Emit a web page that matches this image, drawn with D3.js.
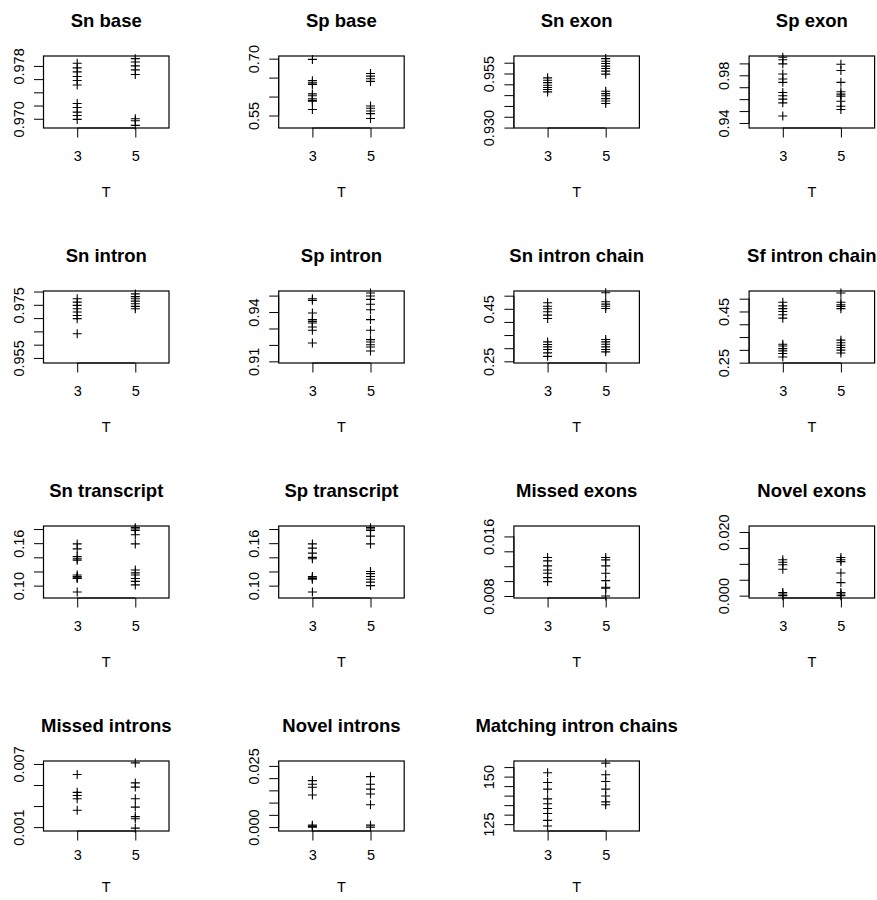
<!DOCTYPE html>
<meta charset="utf-8">
<script src="https://d3js.org/d3.v7.min.js"></script>
<style>
  body { margin: 0; background: #fff; }
  text { font-family: "Liberation Sans", Arial, Helvetica, sans-serif; fill: #000; }
</style>
<body>
<div id="my_dataviz"></div>
<script>
// panel titles, in the order they are drawn (4 per row)
var titles = ["Sn base", "Sp base", "Sn exon", "Sp exon",
              "Sn intron", "Sp intron", "Sn intron chain", "Sf intron chain",
              "Sn transcript", "Sp transcript", "Missed exons", "Novel exons",
              "Missed introns", "Novel introns", "Matching intron chains"];

// x categories
var tValues = [3, 5];
var xLimits = [1.84, 6.16];

// values at T = 3
var valuesT3 = [
  [0.9784, 0.9777, 0.9771, 0.9764, 0.9758, 0.9751, 0.9723, 0.9717, 0.9710, 0.9705, 0.9699],
  [0.698, 0.642, 0.636, 0.632, 0.607, 0.602, 0.594, 0.590, 0.588, 0.566],
  [0.9530, 0.9519, 0.9508, 0.9496, 0.9485, 0.9476, 0.9465],
  [0.9952, 0.9930, 0.9896, 0.9811, 0.9769, 0.9741, 0.9656, 0.9628, 0.9600, 0.9569, 0.9459],
  [0.9773, 0.9760, 0.9748, 0.9735, 0.9723, 0.9710, 0.9698, 0.9641],
  [0.9481, 0.9471, 0.9394, 0.9354, 0.9343, 0.9333, 0.9309, 0.9289, 0.9212],
  [0.473, 0.460, 0.450, 0.439, 0.426, 0.413, 0.324, 0.314, 0.305, 0.295, 0.282, 0.269],
  [0.486, 0.472, 0.461, 0.450, 0.437, 0.424, 0.322, 0.315, 0.305, 0.296, 0.286, 0.272],
  [0.159, 0.152, 0.141, 0.138, 0.136, 0.115, 0.113, 0.111, 0.110, 0.091],
  [0.159, 0.153, 0.146, 0.140, 0.138, 0.113, 0.111, 0.110, 0.109, 0.091],
  [0.01317, 0.01272, 0.01204, 0.01150, 0.01106, 0.01047, 0.00993],
  [0.0113, 0.0105, 0.0097, 0.0083, 0.0010, 0.0005, 0.0000],
  [0.0060, 0.0043, 0.0040, 0.0037, 0.0026],
  [0.0190, 0.0175, 0.0163, 0.0131, 0.0008, 0.0003, 0.0000],
  [152, 146.9, 143.4, 138.3, 135.7, 133.2, 130.6, 127, 124]
];

// values at T = 5
var valuesT5 = [
  [0.9791, 0.9786, 0.9780, 0.9774, 0.9767, 0.9700, 0.9697, 0.9690],
  [0.661, 0.654, 0.647, 0.640, 0.575, 0.569, 0.562, 0.555, 0.542],
  [0.9619, 0.9607, 0.9596, 0.9584, 0.9573, 0.9561, 0.9547, 0.9468, 0.9457, 0.9447, 0.9434, 0.9423, 0.9411],
  [0.9893, 0.9840, 0.9741, 0.9662, 0.9642, 0.9625, 0.9583, 0.9541, 0.9513],
  [0.9791, 0.9781, 0.9773, 0.9764, 0.9754, 0.9744, 0.9735],
  [0.9516, 0.9498, 0.9477, 0.9447, 0.9414, 0.9354, 0.9289, 0.9232, 0.9218, 0.9201, 0.9187, 0.9163],
  [0.511, 0.477, 0.468, 0.460, 0.451, 0.333, 0.324, 0.315, 0.305, 0.295, 0.286],
  [0.522, 0.486, 0.476, 0.470, 0.461, 0.338, 0.328, 0.318, 0.309, 0.299, 0.288],
  [0.182, 0.180, 0.178, 0.172, 0.159, 0.122, 0.118, 0.115, 0.110, 0.106, 0.101],
  [0.182, 0.180, 0.178, 0.170, 0.159, 0.120, 0.117, 0.113, 0.109, 0.105, 0.100],
  [0.01317, 0.01285, 0.01204, 0.01106, 0.01007, 0.00917, 0.00903, 0.00800],
  [0.0120, 0.0113, 0.0107, 0.0071, 0.0041, 0.0010, 0.0005, 0.0000],
  [0.0071, 0.0052, 0.0048, 0.0037, 0.0029, 0.0020, 0.0018, 0.0009],
  [0.0206, 0.0175, 0.0155, 0.0135, 0.0091, 0.0008, 0.0000],
  [157.1, 151, 147.4, 143.4, 139.8, 136.7, 135.2]
];

// y axis range of each panel
var yLimits = [
  [0.9686, 0.9795], [0.517, 0.707], [0.9298, 0.9631], [0.9358, 0.9962],
  [0.9531, 0.9802], [0.909, 0.9528], [0.2436, 0.5178], [0.2487, 0.530],
  [0.0825, 0.1843], [0.0825, 0.1843], [0.00773, 0.0174], [-0.00074, 0.0219],
  [0.00063, 0.00728], [-0.0016, 0.027], [121.4, 158.2]
];

// y tick values and the labels R kept (others dropped for overlap)
var yTicks = [
  [0.970, 0.972, 0.974, 0.976, 0.978],
  [0.55, 0.60, 0.65, 0.70],
  [0.930, 0.935, 0.940, 0.945, 0.950, 0.955, 0.960],
  [0.94, 0.95, 0.96, 0.97, 0.98, 0.99],
  [0.955, 0.960, 0.965, 0.970, 0.975, 0.980],
  [0.91, 0.92, 0.93, 0.94, 0.95],
  [0.25, 0.30, 0.35, 0.40, 0.45, 0.50],
  [0.25, 0.30, 0.35, 0.40, 0.45, 0.50],
  [0.10, 0.12, 0.14, 0.16, 0.18],
  [0.10, 0.12, 0.14, 0.16, 0.18],
  [0.008, 0.010, 0.012, 0.014, 0.016],
  [0.000, 0.005, 0.010, 0.015, 0.020],
  [0.001, 0.003, 0.005, 0.007],
  [0.000, 0.005, 0.010, 0.015, 0.020, 0.025],
  [125, 130, 135, 140, 145, 150, 155]
];
var yTickLabels = [
  ["0.970", "", "", "", "0.978"],
  ["0.55", "", "", "0.70"],
  ["0.930", "", "", "", "", "0.955", ""],
  ["0.94", "", "", "", "0.98", ""],
  ["0.955", "", "", "", "0.975", ""],
  ["0.91", "", "", "0.94", ""],
  ["0.25", "", "", "", "0.45", ""],
  ["0.25", "", "", "", "0.45", ""],
  ["0.10", "", "", "0.16", ""],
  ["0.10", "", "", "0.16", ""],
  ["0.008", "", "", "", "0.016"],
  ["0.000", "", "", "", "0.020"],
  ["0.001", "", "", "0.007"],
  ["0.000", "", "", "", "", "0.025"],
  ["125", "", "", "", "", "150", ""]
];

// layout of the 4x4 grid
var W = 877, H = 900;
var left0 = 43.5, top0 = 56, pitchX = 235.2, pitchY = 235;
var boxW = 125.5;
var tick = 9.5, plus = 4.5;

var svg = d3.select("#my_dataviz")
  .append("svg")
    .attr("width", W)
    .attr("height", H);

titles.forEach(function(title, i) {
  var col = i % 4, row = Math.floor(i / 4);
  // the bottom row is a little tighter so its labels stay in the picture
  var last = row === 3;
  var boxH = last ? 70 : 72;
  var tickLabY = last ? 29 : 33;
  var xLabY = last ? 61 : 69;

  var g = svg.append("g")
    .attr("transform", "translate(" + (left0 + col * pitchX) + "," + (top0 + row * pitchY) + ")");

  var x = d3.scaleLinear().domain(xLimits).range([0, boxW]);
  var y = d3.scaleLinear().domain(yLimits[i]).range([boxH, 0]);

  // x axis: ticks at 3 and 5 only
  var xa = g.append("g")
    .attr("transform", "translate(0," + boxH + ")")
    .call(d3.axisBottom(x).tickValues(tValues).tickSize(tick).tickSizeOuter(0)
      .tickFormat(d3.format("d")));
  xa.select(".domain").remove();
  xa.append("line")
    .attr("x1", x(tValues[0])).attr("x2", x(tValues[1]))
    .attr("stroke", "#000");
  xa.selectAll(".tick text")
    .attr("y", tickLabY).attr("dy", 0)
    .style("font-size", "14.5px");

  // y axis with rotated labels
  var ticks = yTicks[i], labs = yTickLabels[i];
  var ya = g.append("g")
    .call(d3.axisLeft(y).tickValues(ticks).tickSize(tick).tickSizeOuter(0)
      .tickFormat(function(d, k) { return labs[k]; }));
  ya.select(".domain").remove();
  ya.append("line")
    .attr("y1", y(ticks[0])).attr("y2", y(ticks[ticks.length - 1]))
    .attr("stroke", "#000");
  ya.selectAll(".tick text")
    .attr("transform", "rotate(-90)")
    .attr("x", 0).attr("y", -20).attr("dy", 0)
    .style("text-anchor", "middle")
    .style("font-size", "14.5px");

  svg.selectAll(".tick line").attr("stroke", "#000");
  svg.selectAll(".tick text").attr("fill", "#000").attr("font-family", null);

  // plot box
  g.append("rect")
    .attr("x", 0).attr("y", 0)
    .attr("width", boxW).attr("height", boxH)
    .attr("fill", "none")
    .attr("stroke", "#000")
    .attr("stroke-width", 1.2);

  // points, drawn as "+"
  var pts = [];
  valuesT3[i].forEach(function(v) { pts.push({t: 3, v: v}); });
  valuesT5[i].forEach(function(v) { pts.push({t: 5, v: v}); });
  g.append("g")
    .selectAll("path")
    .data(pts)
    .enter()
    .append("path")
      .attr("d", function(d) {
        var cx = x(d.t), cy = y(d.v);
        return "M" + (cx - plus) + "," + cy + "H" + (cx + plus) +
               "M" + cx + "," + (cy - plus) + "V" + (cy + plus);
      })
      .attr("stroke", "#000")
      .attr("stroke-width", 1.1)
      .attr("fill", "none");

  // title and x label
  g.append("text")
    .attr("x", boxW / 2).attr("y", -29)
    .attr("text-anchor", "middle")
    .style("font-size", "18.5px")
    .style("font-weight", "bold")
    .text(title);
  g.append("text")
    .attr("x", boxW / 2).attr("y", boxH + xLabY)
    .attr("text-anchor", "middle")
    .style("font-size", "14.5px")
    .text("T");
});
</script>
</body>
